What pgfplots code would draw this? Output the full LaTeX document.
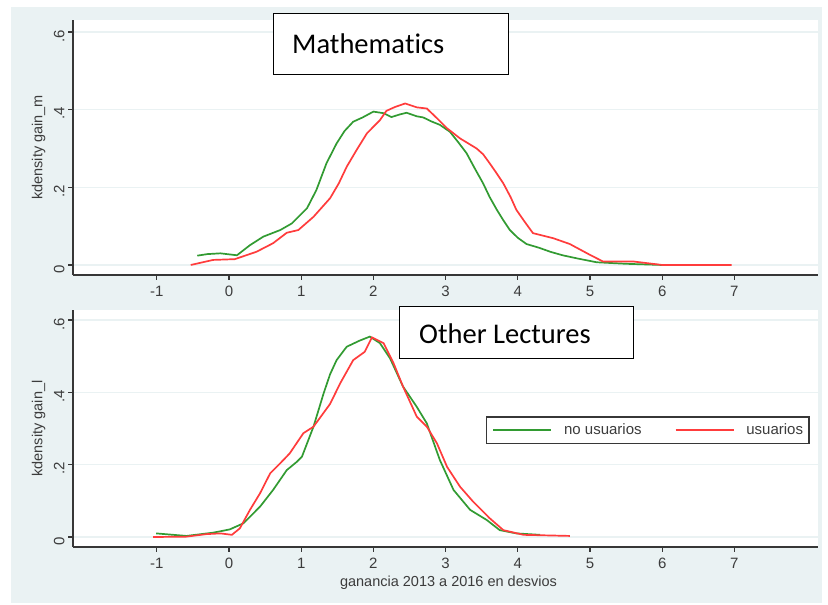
\documentclass[border=0pt]{standalone}
\usepackage{pgfplots}
\pgfplotsset{compat=1.18}
\usepackage{fontspec}
\setmainfont{Liberation Sans}
\newfontfamily\calibri[Ligatures=NoCommon]{Carlito}
\definecolor{bgc}{RGB}{234,242,243}
\definecolor{gridc}{RGB}{234,242,243}
\definecolor{axc}{RGB}{55,55,55}
\definecolor{txc}{RGB}{60,60,60}
\definecolor{sgreen}{RGB}{50,155,50}
\definecolor{sred}{RGB}{255,60,60}
\pgfplotsset{
  stbase/.style={
    scale only axis, width=745pt,
    xmin=-2.161, xmax=8.158,
    axis x line*=bottom, axis y line*=left,
    axis line style={axc, line width=1.4pt, -},
    tick style={axc, line width=1.2pt},
    tick align=outside, major tick length=5pt,
    xtick={-1,0,1,2,3,4,5,6,7},
    ytick={0,0.2,0.4,0.6}, yticklabels={0,.2,.4,.6},
    ymajorgrids, grid style={gridc, line width=1.5pt},
    /pgf/number format/assume math mode=true,
    tick label style={font=\fontsize{15}{17}\selectfont, text=txc},
    xticklabel style={anchor=north, text height=11pt, text depth=0pt, yshift=-2pt},
    yticklabel style={rotate=90, anchor=south, text height=11pt, text depth=0pt, xshift=-4pt},
    label style={font=\fontsize{14.5}{17}\selectfont, text=txc},
    ylabel style={at={(axis description cs:-0.046,0.5)}, anchor=center, rotate=0},
    every axis plot/.append style={line width=1.7pt, no markers},
    axis background/.style={fill=white},
  }
}
\begin{document}
\begin{tikzpicture}
\path[fill=white] (0pt,0pt) rectangle (828pt,605pt);
\path[fill=bgc] (11pt,2pt) rectangle (822pt,598pt);
% top panel
\begin{axis}[stbase, at={(73pt,330pt)}, anchor=south west, height=255pt,
  ymin=-0.0258, ymax=0.631, ylabel={kdensity gain\_m}]
\addplot[sgreen] coordinates {(-0.44,0.024) (-0.30,0.028) (-0.12,0.030) (0.11,0.025) (0.29,0.051) (0.475,0.073) (0.71,0.090) (0.87,0.107) (1.08,0.146) (1.21,0.193) (1.35,0.262) (1.49,0.313) (1.60,0.345) (1.72,0.369) (1.85,0.380) (2.0,0.395) (2.14,0.391) (2.25,0.381) (2.37,0.388) (2.46,0.392) (2.60,0.383) (2.69,0.380) (2.80,0.370) (2.92,0.361) (3.06,0.343) (3.18,0.315) (3.29,0.288) (3.40,0.250) (3.52,0.210) (3.61,0.175) (3.71,0.142) (3.80,0.115) (3.89,0.090) (4.0,0.070) (4.12,0.054) (4.30,0.044) (4.45,0.034) (4.62,0.025) (4.82,0.017) (5.09,0.007) (5.5,0.003) (6.0,0.0)};
\addplot[sred] coordinates {(-0.53,0.0) (-0.22,0.013) (0.08,0.015) (0.38,0.034) (0.61,0.056) (0.80,0.083) (0.96,0.090) (1.17,0.124) (1.40,0.172) (1.52,0.210) (1.63,0.253) (1.77,0.297) (1.91,0.339) (2.09,0.373) (2.18,0.397) (2.30,0.407) (2.44,0.416) (2.60,0.406) (2.74,0.403) (2.88,0.378) (3.02,0.352) (3.20,0.326) (3.43,0.300) (3.52,0.285) (3.61,0.262) (3.70,0.238) (3.80,0.210) (3.90,0.175) (3.98,0.142) (4.10,0.110) (4.21,0.082) (4.49,0.069) (4.72,0.054) (5.0,0.026) (5.18,0.009) (5.6,0.009) (6.0,0.0) (6.96,0.0)};
\end{axis}
% bottom panel
\begin{axis}[stbase, at={(73pt,58pt)}, anchor=south west, height=237pt,
  ymin=-0.0276, ymax=0.6276, ylabel={kdensity gain\_l},
  xlabel={ganancia 2013 a 2016 en desvios},
  xlabel style={at={(axis description cs:0.504,-0.15)}, anchor=center},
  legend columns=2,
  legend image code/.code={\draw[#1] (0pt,0pt) -- (58pt,0pt);},
  legend style={at={(rel axis cs:0.554,0.435)}, anchor=south west,
    draw=axc, line width=1.4pt, inner xsep=6pt, inner ysep=7pt,
    font=\fontsize{15}{17}\selectfont, text=txc,
    nodes={inner sep=0pt},
    /tikz/every odd column/.append style={column sep=12pt},
    /tikz/every even column/.append style={column sep=33pt}},
  ]
\addplot[sgreen] coordinates {(-1.01,0.010) (-0.59,0.003) (-0.22,0.012) (0.01,0.021) (0.20,0.038) (0.43,0.084) (0.61,0.130) (0.80,0.185) (0.94,0.208) (1.01,0.222) (1.17,0.305) (1.31,0.397) (1.40,0.450) (1.49,0.489) (1.63,0.526) (1.81,0.543) (1.95,0.554) (2.09,0.536) (2.23,0.494) (2.41,0.416) (2.60,0.360) (2.74,0.314) (2.92,0.213) (3.11,0.130) (3.34,0.075) (3.57,0.047) (3.75,0.019) (3.98,0.010) (4.31,0.006)};
\addlegendentry{no usuarios}
\addplot[sred] coordinates {(-1.05,0.0) (-0.59,0.001) (-0.31,0.008) (-0.12,0.010) (0.04,0.006) (0.15,0.024) (0.29,0.075) (0.43,0.121) (0.57,0.176) (0.71,0.204) (0.84,0.231) (1.03,0.287) (1.17,0.305) (1.40,0.368) (1.54,0.425) (1.72,0.489) (1.88,0.512) (1.98,0.552) (2.14,0.536) (2.28,0.480) (2.41,0.416) (2.60,0.333) (2.74,0.305) (2.88,0.259) (3.02,0.194) (3.20,0.139) (3.38,0.098) (3.61,0.052) (3.80,0.019) (4.08,0.006) (4.72,0.003)};
\addlegendentry{usuarios}
\end{axis}
% text boxes
\draw[black, line width=1pt, fill=white] (273pt,530pt) rectangle (508pt,591pt);
\node[anchor=west, inner sep=0pt, font=\calibri\fontsize{28.5}{30}\selectfont] at (292pt,561pt) {Mathema\kern0pt tics};
\draw[black, line width=1pt, fill=white] (399pt,246pt) rectangle (633pt,298pt);
\node[anchor=west, inner sep=0pt, font=\calibri\fontsize{28.5}{30}\selectfont] at (419pt,271pt) {Other Lectures};
\end{tikzpicture}
\end{document}
